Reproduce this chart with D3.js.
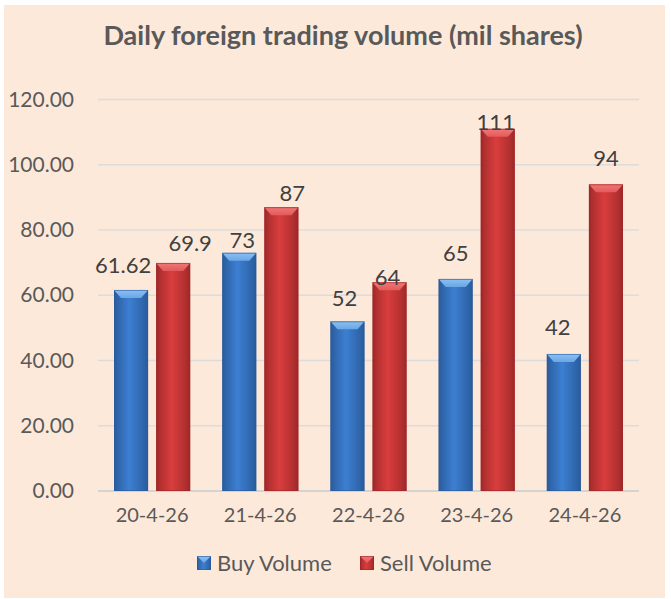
<!DOCTYPE html>
<html>
<head>
<meta charset="utf-8">
<script src="https://cdn.jsdelivr.net/npm/d3@7"></script>
<style>
  html, body { margin: 0; padding: 0; background: #ffffff; }
  svg { display: block; }
  text { font-family: Lato, "Open Sans", sans-serif; }
</style>
</head>
<body>
<div id="chart"></div>
<script>
// chart values
var categories = ["20-4-26", "21-4-26", "22-4-26", "23-4-26", "24-4-26"];
var seriesNames = ["Buy Volume", "Sell Volume"];
var buyVolume = [61.62, 73, 52, 65, 42];
var sellVolume = [69.9, 87, 64, 111, 94];
var labelText = [["61.62", "73", "52", "65", "42"], ["69.9", "87", "64", "111", "94"]];
var yTicks = [0, 20, 40, 60, 80, 100, 120];

// label nudges (layout only, to follow the hand placed labels)
var labelNudge = [
	[[-8, -17], [3, -5], [-3, -15], [0, -18], [-6, -19]],
	[[17, -12], [11, -6], [-2, 3], [-2, 1], [0, -18]]
];

var W = 671, H = 599;
var margin = {left: 98, right: 32, top: 99.5, bottom: 108};

var svg = d3.select("#chart")
	.append("svg")
	.attr("width", W)
	.attr("height", H);

var defs = svg.append("defs");

var palette = [
	{edge: "#2a5b9b", mid: "#3d7fd2", bevel: "#6aa6e6", bevelHi: "#8cc0f2", side: "#2f66ab"},
	{edge: "#9e2728", mid: "#d93d3d", bevel: "#e45a5a", bevelHi: "#f07878", side: "#b23030"}
];

palette.forEach(function(p, i) {
	var g = defs.append("linearGradient")
		.attr("id", "barGrad" + i)
		.attr("x1", "0").attr("x2", "1").attr("y1", "0").attr("y2", "0");
	g.append("stop").attr("offset", "0").attr("stop-color", p.edge);
	g.append("stop").attr("offset", "0.12").attr("stop-color", p.side);
	g.append("stop").attr("offset", "0.45").attr("stop-color", p.mid);
	g.append("stop").attr("offset", "0.85").attr("stop-color", p.side);
	g.append("stop").attr("offset", "1").attr("stop-color", p.edge);

	var b = defs.append("linearGradient")
		.attr("id", "bevelGrad" + i)
		.attr("x1", "0").attr("x2", "0").attr("y1", "0").attr("y2", "1");
	b.append("stop").attr("offset", "0").attr("stop-color", p.bevelHi);
	b.append("stop").attr("offset", "1").attr("stop-color", p.bevel);
});

// background panel
svg.append("rect")
	.attr("x", 4).attr("y", 5)
	.attr("width", 661).attr("height", 593)
	.attr("fill", "#fde9da");

// title
svg.append("text")
	.attr("x", 343)
	.attr("y", 45)
	.attr("text-anchor", "middle")
	.attr("font-size", 27)
	.attr("font-weight", "bold")
	.attr("fill", "#595959")
	.text("Daily foreign trading volume (mil shares)");

var y = d3.scaleLinear()
	.domain([0, 120])
	.range([H - margin.bottom, margin.top]);

var x0 = d3.scaleBand()
	.domain(categories)
	.range([margin.left, W - margin.right]);

var x1 = d3.scaleBand()
	.domain(seriesNames)
	.range([16, x0.bandwidth() - 16])
	.paddingInner(8 / 42);

// gridlines
svg.append("g")
	.selectAll("line")
	.data(yTicks)
	.enter()
	.append("line")
	.attr("x1", margin.left)
	.attr("x2", W - margin.right)
	.attr("y1", function(d) { return y(d); })
	.attr("y2", function(d) { return y(d); })
	.attr("stroke", function(d) { return d === 0 ? "#d3d3d3" : "#dcdcdc"; })
	.attr("stroke-width", function(d) { return d === 0 ? 2 : 1.5; });

// y axis labels
var yAxis = svg.append("g")
	.attr("transform", "translate(" + (margin.left - 24) + ",0)")
	.call(d3.axisLeft(y).tickValues(yTicks).tickFormat(d3.format(".2f")).tickSize(0).tickPadding(0));
yAxis.select(".domain").remove();
yAxis.selectAll("text")
	.attr("font-size", 21)
	.attr("fill", "#595959")
	.attr("font-family", "Lato, sans-serif");

// x axis labels
var xAxis = svg.append("g")
	.attr("transform", "translate(0," + (H - margin.bottom) + ")")
	.call(d3.axisBottom(x0).tickSize(0).tickPadding(17));
xAxis.select(".domain").remove();
xAxis.selectAll("text")
	.attr("font-size", 20)
	.attr("fill", "#595959")
	.attr("font-family", "Lato, sans-serif");

var series = [buyVolume, sellVolume];

function drawBar(sel, bx, by, bw, bh, i) {
	var p = palette[i];
	var bev = Math.min(8, bh);
	sel.append("rect")
		.attr("x", bx).attr("y", by)
		.attr("width", bw).attr("height", bh)
		.attr("fill", "url(#barGrad" + i + ")");
	// top bevel
	sel.append("path")
		.attr("d", "M" + bx + "," + by + "L" + (bx + bw) + "," + by +
			"L" + (bx + bw - 7) + "," + (by + bev) + "L" + (bx + 7) + "," + (by + bev) + "Z")
		.attr("fill", "url(#bevelGrad" + i + ")");
	// outline
	sel.append("rect")
		.attr("x", bx + 0.5).attr("y", by + 0.5)
		.attr("width", bw - 1).attr("height", bh - 1)
		.attr("fill", "none")
		.attr("stroke", p.edge)
		.attr("stroke-opacity", 0.6)
		.attr("stroke-width", 1);
}

var bars = svg.append("g");
series.forEach(function(vals, i) {
	vals.forEach(function(v, j) {
		var bx = x0(categories[j]) + x1(seriesNames[i]);
		var by = y(v);
		var g = bars.append("g");
		drawBar(g, bx, by, x1.bandwidth(), y(0) - by, i);
	});
});

// data labels
var labels = svg.append("g");
series.forEach(function(vals, i) {
	labels.selectAll(".lbl" + i)
		.data(vals)
		.enter()
		.append("text")
		.attr("x", function(d, j) { return x0(categories[j]) + x1(seriesNames[i]) + x1.bandwidth() / 2 + labelNudge[i][j][0]; })
		.attr("y", function(d, j) { return y(d) + labelNudge[i][j][1]; })
		.attr("text-anchor", "middle")
		.attr("font-size", 22)
		.attr("fill", "#404040")
		.text(function(d, j) { return labelText[i][j]; });
});

// legend
var legendX = [197, 360];
var legend = svg.append("g");
seriesNames.forEach(function(name, i) {
	var g = legend.append("g");
	drawBar(g, legendX[i], 556, 14, 14, i);
	g.select("path")
		.attr("d", "M" + legendX[i] + ",556L" + (legendX[i] + 14) + ",556L" + (legendX[i] + 7) + ",563Z");
	g.append("text")
		.attr("x", legendX[i] + 20)
		.attr("y", 571)
		.attr("font-size", 22)
		.attr("fill", "#595959")
		.text(name);
});
</script>
</body>
</html>
